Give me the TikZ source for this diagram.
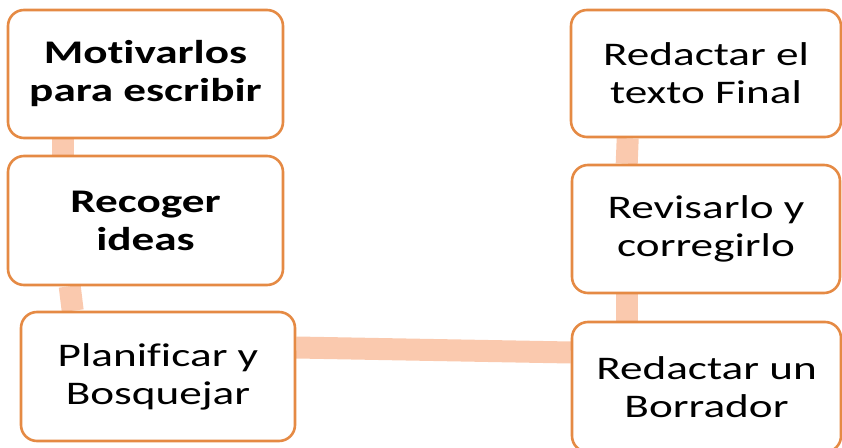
\documentclass[tikz,border=0pt]{standalone}
\usepackage{fontspec}
\setmainfont{Carlito}[FakeStretch=1.37,Ligatures=NoCommon]
\usetikzlibrary{backgrounds}
\definecolor{naranja}{RGB}{229,138,68}
\definecolor{durazno}{RGB}{250,201,174}
\begin{document}
\begin{tikzpicture}[x=1pt,y=1pt,
	paso/.style={draw=naranja,line width=2.6pt,fill=white,rounded corners=16pt,
		align=center,inner sep=0pt,font=\fontsize{33}{38}\selectfont},
	enlace/.style={durazno,line width=22pt}]
		\useasboundingbox (0,0) rectangle (842,447);
		\clip (0,0) rectangle (842,447);

		% Columna izquierda
		\node[paso,minimum width=275,minimum height=128] (m1) at (145.5,373) {\textbf{Motivarlos}\\\textbf{para escribir}};
		\node[paso,minimum width=275,minimum height=129] (m2) at (145.5,226.5) {\textbf{Recoger}\\\textbf{ideas}};
		\node[paso,minimum width=274,minimum height=129] (m3) at (158,70.5) {Planificar y\\Bosquejar};

		% Columna derecha
		\node[paso,minimum width=269,minimum height=130] (m4) at (706.5,60) {Redactar un\\Borrador};
		\node[paso,minimum width=268,minimum height=128] (m5) at (706,218) {Revisarlo y\\corregirlo};
		\node[paso,minimum width=270,minimum height=127] (m6) at (706,373.5) {Redactar el\\texto Final};

		% Enlaces
		\begin{scope}[on background layer]
			\draw[enlace] ([xshift=56.5]m1.south west) -- ([xshift=56.5]m2.north west);
			\draw[enlace] ([xshift=63]m2.south west) -- ([xshift=53]m3.north west);
			\draw[enlace] ([yshift=29]m3.east) -- ([yshift=34.5]m4.west);
			\draw[enlace] ([xshift=56]m4.north west) -- ([xshift=56]m5.south west);
			\draw[enlace] ([xshift=56]m5.north west) -- ([xshift=58]m6.south west);
		\end{scope}
\end{tikzpicture}
\end{document}
